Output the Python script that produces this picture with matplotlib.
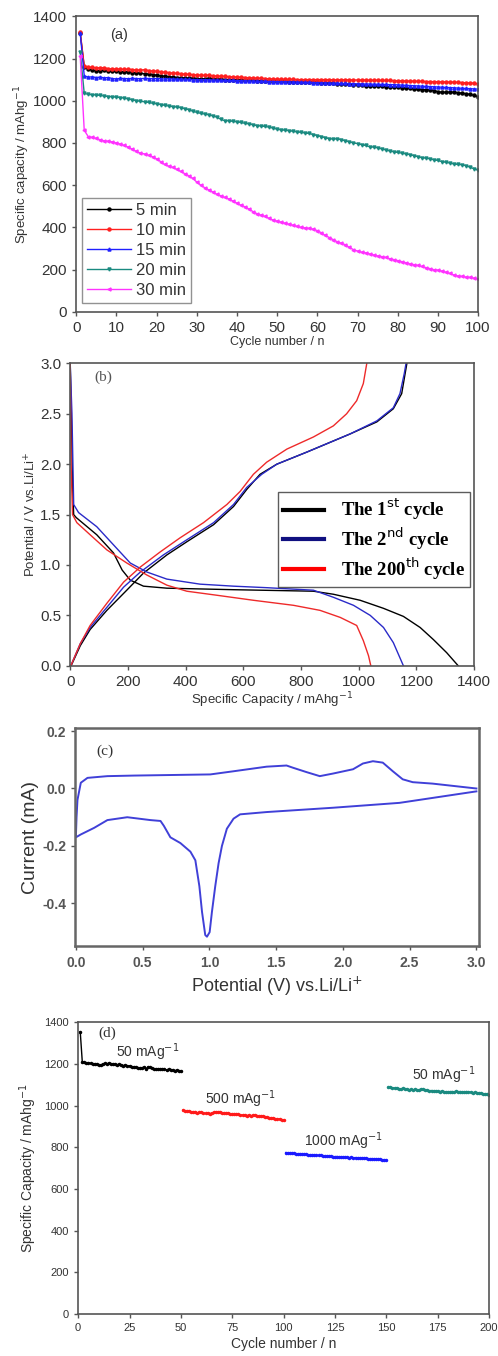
import matplotlib
matplotlib.use('Agg')
import matplotlib.pyplot as plt
from matplotlib.lines import Line2D

plt.rcParams['font.family'] = ['Liberation Sans', 'DejaVu Sans']

# ---- panel (a): cycling at different times ----
cycles_a = list(range(1, 101))
cap_5min = [1320, 1160, 1150, 1145, 1142, 1143, 1145, 1141, 1140, 1142,
            1138, 1137, 1138, 1133, 1132, 1130, 1128, 1126, 1124, 1120,
            1118, 1115, 1114, 1112, 1110, 1110, 1108, 1107, 1106, 1105,
            1104, 1104, 1106, 1103, 1102, 1101, 1100, 1100, 1099, 1098,
            1098, 1097, 1097, 1096, 1095, 1095, 1094, 1094, 1093, 1093,
            1092, 1092, 1091, 1091, 1090, 1090, 1089, 1088, 1088, 1087,
            1085, 1084, 1083, 1082, 1080, 1079, 1078, 1077, 1075, 1074,
            1073, 1072, 1071, 1070, 1069, 1068, 1067, 1066, 1065, 1064,
            1062, 1060, 1058, 1056, 1055, 1053, 1052, 1052, 1048, 1043,
            1040, 1040, 1041, 1040, 1038, 1036, 1033, 1030, 1025, 1020]
cap_10min = [1325, 1165, 1160, 1158, 1155, 1157, 1156, 1152, 1150, 1151,
             1150, 1148, 1150, 1147, 1146, 1145, 1147, 1143, 1141, 1140,
             1137, 1135, 1133, 1131, 1130, 1128, 1126, 1125, 1123, 1122,
             1121, 1120, 1121, 1118, 1117, 1116, 1115, 1114, 1113, 1112,
             1111, 1110, 1109, 1108, 1107, 1106, 1105, 1104, 1103, 1102,
             1102, 1101, 1101, 1101, 1100, 1100, 1100, 1100, 1100, 1100,
             1100, 1100, 1100, 1099, 1099, 1099, 1099, 1099, 1098, 1098,
             1098, 1098, 1097, 1097, 1097, 1096, 1096, 1096, 1095, 1095,
             1094, 1094, 1093, 1093, 1092, 1092, 1091, 1091, 1090, 1090,
             1089, 1089, 1088, 1088, 1087, 1086, 1085, 1084, 1083, 1080]
cap_15min = [1320, 1118, 1112, 1113, 1110, 1112, 1108, 1110, 1105, 1103,
             1106, 1105, 1104, 1106, 1105, 1104, 1106, 1105, 1104, 1105,
             1104, 1103, 1104, 1103, 1102, 1102, 1101, 1101, 1100, 1100,
             1099, 1100, 1099, 1098, 1098, 1097, 1097, 1096, 1096, 1095,
             1095, 1094, 1094, 1093, 1093, 1092, 1092, 1091, 1091, 1090,
             1090, 1090, 1089, 1089, 1088, 1088, 1087, 1087, 1086, 1085,
             1085, 1084, 1084, 1083, 1083, 1082, 1082, 1081, 1081, 1080,
             1080, 1079, 1079, 1078, 1078, 1077, 1077, 1076, 1076, 1075,
             1074, 1073, 1072, 1071, 1070, 1069, 1068, 1067, 1066, 1065,
             1064, 1063, 1062, 1061, 1060, 1059, 1058, 1057, 1056, 1055]
cap_20min = [1230, 1035, 1030, 1028, 1027, 1025, 1022, 1020, 1018, 1017,
             1015, 1012, 1008, 1004, 1000, 997, 995, 992, 988, 985,
             982, 978, 975, 972, 970, 967, 962, 958, 950, 945,
             940, 937, 933, 928, 922, 912, 905, 905, 902, 900,
             897, 893, 890, 886, 882, 880, 878, 875, 870, 865,
             862, 860, 858, 855, 852, 850, 847, 845, 840, 835,
             830, 825, 820, 818, 820, 815, 810, 805, 800, 797,
             792, 788, 782, 780, 777, 772, 767, 762, 758, 755,
             752, 748, 745, 740, 735, 730, 728, 725, 720, 717,
             712, 708, 705, 700, 698, 697, 692, 685, 678, 670]
cap_30min = [1210, 860, 830, 826, 822, 815, 810, 808, 805, 800,
             795, 788, 780, 770, 760, 752, 748, 742, 735, 725,
             712, 698, 690, 685, 675, 665, 655, 645, 632, 615,
             600, 588, 578, 568, 557, 550, 542, 535, 525, 515,
             505, 498, 487, 475, 465, 458, 452, 443, 435, 430,
             425, 420, 415, 410, 405, 400, 398, 395, 392, 385,
             375, 362, 352, 342, 332, 325, 318, 305, 295, 288,
             283, 280, 275, 270, 265, 262, 258, 252, 248, 243,
             238, 233, 228, 224, 220, 215, 210, 205, 200, 198,
             193, 188, 182, 175, 170, 168, 165, 163, 160, 155]
labels_a = ['5 min', '10 min', '15 min', '20 min', '30 min']

# ---- panel (b): charge/discharge profiles ----
c1_dis_x = [0, 5, 8, 12, 21, 92, 150, 180, 208, 254, 335, 566, 843, 912, 1005, 1086, 1155, 1213, 1259, 1305, 1345]
c1_dis_y = [3.0, 2.3, 1.8, 1.5, 1.47, 1.3, 1.12, 0.95, 0.85, 0.79, 0.77, 0.755, 0.74, 0.71, 0.65, 0.57, 0.49, 0.38, 0.26, 0.13, 0.0]
c1_chg_x = [3, 35, 69, 127, 196, 254, 335, 404, 497, 566, 612, 658, 716, 820, 970, 1063, 1120, 1149, 1161, 1167]
c1_chg_y = [0.0, 0.2, 0.36, 0.55, 0.75, 0.92, 1.1, 1.23, 1.4, 1.58, 1.75, 1.9, 2.0, 2.12, 2.3, 2.42, 2.55, 2.7, 2.9, 3.0]
c2_dis_x = [0, 6, 12, 29, 92, 150, 208, 266, 335, 450, 566, 681, 843, 912, 982, 1040, 1086, 1120, 1155]
c2_dis_y = [3.0, 2.5, 1.6, 1.52, 1.38, 1.2, 1.02, 0.93, 0.86, 0.81, 0.79, 0.775, 0.75, 0.68, 0.6, 0.5, 0.38, 0.23, 0.0]
c2_chg_x = [2, 35, 69, 127, 185, 243, 323, 404, 497, 566, 612, 664, 716, 820, 970, 1063, 1120, 1143, 1158, 1164]
c2_chg_y = [0.0, 0.22, 0.38, 0.58, 0.78, 0.93, 1.1, 1.25, 1.42, 1.6, 1.77, 1.9, 2.0, 2.12, 2.3, 2.43, 2.56, 2.7, 2.9, 3.0]
c200_dis_x = [0, 3, 8, 23, 69, 127, 196, 266, 335, 404, 508, 635, 774, 866, 936, 993, 1016, 1034, 1042]
c200_dis_y = [3.0, 2.0, 1.5, 1.42, 1.3, 1.15, 1.02, 0.9, 0.8, 0.74, 0.7, 0.65, 0.6, 0.55, 0.48, 0.4, 0.25, 0.1, 0.0]
c200_chg_x = [2, 35, 69, 127, 185, 243, 312, 381, 462, 543, 589, 635, 681, 751, 843, 912, 958, 993, 1016, 1028]
c200_chg_y = [0.0, 0.22, 0.4, 0.62, 0.83, 0.98, 1.13, 1.27, 1.42, 1.6, 1.73, 1.9, 2.02, 2.15, 2.27, 2.38, 2.5, 2.63, 2.8, 3.0]

# ---- panel (c): cyclic voltammetry (closed loop) ----
cv_v = [3.0, 2.424, 1.926, 1.429, 1.230, 1.181, 1.131, 1.094, 1.069, 1.044, 1.019, 1.002,
        0.982, 0.969, 0.945, 0.925, 0.895, 0.858, 0.783, 0.708, 0.659, 0.634, 0.559,
        0.385, 0.236, 0.137, 0.037, 0.0,
        0.005, 0.012, 0.037, 0.087, 0.236, 0.435, 1.007, 1.181, 1.429, 1.578, 1.628,
        1.728, 1.827, 1.926, 2.076, 2.150, 2.225, 2.299, 2.374, 2.448, 2.523, 2.672, 3.0]
cv_i = [-0.01, -0.05, -0.067, -0.082, -0.09, -0.105, -0.14, -0.2, -0.26, -0.34, -0.43, -0.5,
        -0.516, -0.51, -0.43, -0.34, -0.25, -0.22, -0.19, -0.17, -0.13, -0.113, -0.11,
        -0.10, -0.11, -0.137, -0.16, -0.17,
        -0.10, -0.04, 0.02, 0.037, 0.043, 0.045, 0.049, 0.06, 0.076, 0.08, 0.072,
        0.057, 0.043, 0.052, 0.067, 0.087, 0.095, 0.09, 0.06, 0.032, 0.022, 0.017, 0.0]

# ---- panel (d): rate capability ----
cyc_d1 = list(range(1, 51))
cyc_d2 = list(range(51, 101))
cyc_d3 = list(range(101, 151))
cyc_d4 = list(range(151, 201))
rate_50a = [1355, 1210, 1208, 1205, 1207, 1203, 1200, 1202, 1198, 1195,
            1196, 1200, 1203, 1201, 1205, 1202, 1198, 1200, 1197, 1199,
            1196, 1193, 1195, 1190, 1192, 1188, 1186, 1185, 1183, 1180,
            1182, 1185, 1178, 1186, 1184, 1180, 1178, 1176, 1178, 1175,
            1177, 1174, 1172, 1175, 1173, 1170, 1168, 1171, 1167, 1168]
rate_500 = [978, 975, 973, 976, 970, 968, 972, 966, 968, 970,
            965, 963, 966, 962, 965, 968, 971, 969, 972, 967,
            965, 963, 966, 961, 960, 962, 958, 959, 956, 955,
            957, 953, 955, 952, 954, 956, 953, 951, 952, 950,
            948, 946, 943, 940, 942, 938, 935, 937, 933, 932]
rate_1000 = [775, 773, 774, 771, 772, 770, 769, 770, 768, 767,
             766, 765, 764, 765, 763, 762, 761, 762, 760, 759,
             758, 757, 758, 756, 755, 756, 754, 755, 753, 752,
             753, 751, 752, 750, 751, 749, 750, 748, 748, 747,
             746, 745, 746, 744, 743, 742, 743, 741, 740, 740]
rate_50b = [1088, 1090, 1086, 1085, 1087, 1082, 1080, 1083, 1079, 1080,
            1077, 1078, 1076, 1079, 1075, 1077, 1080, 1078, 1076, 1074,
            1072, 1073, 1070, 1071, 1069, 1068, 1070, 1067, 1066, 1065,
            1067, 1068, 1066, 1069, 1067, 1068, 1065, 1066, 1068, 1067,
            1065, 1063, 1064, 1062, 1061, 1060, 1058, 1057, 1055, 1053]

spine_col = '#555555'
text_col = '#333333'


def style_axes(ax, size=10):
    for s in ['top', 'right', 'left', 'bottom']:
        ax.spines[s].set_color(spine_col)
        ax.spines[s].set_linewidth(1.2)
    ax.tick_params(direction='out', length=3, width=1, colors=spine_col,
                   labelcolor=text_col, labelsize=size, top=False, right=False)


fig = plt.figure(figsize=(4.98, 13.56), dpi=100)

# (a)
ax = fig.add_axes([0.153, 0.770, 0.807, 0.218])
cols_a = ['black', '#ff2020', '#2020ff', '#1a8a80', '#ff33ff']
marks_a = ['o', 'o', '^', 'v', '<']
for vals, lab, c, m in zip([cap_5min, cap_10min, cap_15min, cap_20min, cap_30min], labels_a, cols_a, marks_a):
    ax.plot(cycles_a, vals, color=c, marker=m, markersize=2.2, linewidth=1, label=lab)
ax.set_xlim(0, 100)
ax.set_ylim(0, 1400)
ax.set_xticks(range(0, 101, 10))
ax.set_yticks(range(0, 1401, 200))
style_axes(ax, 11)
ax.set_xlabel('Cycle number / n', fontsize=9, color=text_col, labelpad=1)
ax.set_ylabel('Specific capacity / mAhg$^{-1}$', fontsize=9.5, color=text_col, labelpad=1)
ax.text(8.5, 1310, '(a)', fontsize=10.5, color=text_col, va='center', family='Liberation Sans')
leg = ax.legend(loc='lower left', bbox_to_anchor=(0.015, 0.03), fontsize=12, frameon=True,
                fancybox=False, edgecolor='#777777', handlelength=2.6, borderpad=0.3,
                labelspacing=0.3, handletextpad=0.3, borderaxespad=0)
for t in leg.get_texts():
    t.set_color(text_col)

# (b)
ax = fig.add_axes([0.141, 0.509, 0.811, 0.223])
col_c1, col_c2, col_c200 = 'black', '#2a2ac8', '#ee2a2a'
ax.plot(c1_dis_x, c1_dis_y, color=col_c1, lw=1)
ax.plot(c1_chg_x, c1_chg_y, color=col_c1, lw=1)
ax.plot(c2_dis_x, c2_dis_y, color=col_c2, lw=1)
ax.plot(c2_chg_x, c2_chg_y, color=col_c2, lw=1)
ax.plot(c200_dis_x, c200_dis_y, color=col_c200, lw=1)
ax.plot(c200_chg_x, c200_chg_y, color=col_c200, lw=1)
ax.set_xlim(0, 1400)
ax.set_ylim(0, 3.0)
ax.set_xticks(range(0, 1401, 200))
ax.set_yticks([0.0, 0.5, 1.0, 1.5, 2.0, 2.5, 3.0])
ax.set_yticklabels(['0.0', '0.5', '1.0', '1.5', '2.0', '2.5', '3.0'])
style_axes(ax, 11)
ax.set_xlabel('Specific Capacity / mAhg$^{-1}$', fontsize=9.5, color=text_col, labelpad=1)
ax.set_ylabel('Potential / V vs.Li/Li$^{+}$', fontsize=9.5, color=text_col, labelpad=1)
ax.text(114, 2.86, '(b)', fontsize=11, color='#555555', family='Liberation Serif',
        ha='center', va='center')
handles = [Line2D([], [], color='black', lw=3), Line2D([], [], color='#101080', lw=3),
           Line2D([], [], color='red', lw=3)]
leg = ax.legend(handles, ['The 1$^{\\mathrm{st}}$ cycle', 'The 2$^{\\mathrm{nd}}$ cycle',
                          'The 200$^{\\mathrm{th}}$ cycle'],
                loc='upper left', bbox_to_anchor=(0.515, 0.575), frameon=True, fancybox=False,
                edgecolor='#333333', prop={'family': 'Liberation Serif', 'weight': 'bold', 'size': 13.5},
                handlelength=2.2, borderpad=0.25, labelspacing=0.2, handletextpad=0.9,
                borderaxespad=0)
leg.get_frame().set_linewidth(1)

# (c)
ax = fig.add_axes([0.151, 0.302, 0.811, 0.161])
ax.plot(cv_v, cv_i, color='#4040d8', lw=1.4)
ax.set_xlim(-0.005, 3.02)
ax.set_ylim(-0.55, 0.21)
ax.set_xticks([0.0, 0.5, 1.0, 1.5, 2.0, 2.5, 3.0])
ax.set_xticklabels(['0.0', '0.5', '1.0', '1.5', '2.0', '2.5', '3.0'])
ax.set_yticks([-0.4, -0.2, 0.0, 0.2])
ax.set_yticklabels(['-0.4', '-0.2', '0.0', '0.2'])
style_axes(ax, 10)
for s in ax.spines.values():
    s.set_linewidth(1.8)
    s.set_color('#666666')
for t in ax.get_xticklabels() + ax.get_yticklabels():
    t.set_fontweight('bold')
    t.set_color('#555555')
ax.set_xlabel('Potential (V) vs.Li/Li$^{+}$', fontsize=13, color='#333333', labelpad=4)
ax.set_ylabel('Current (mA)', fontsize=14, color='#333333', labelpad=2)
ax.text(0.22, 0.13, '(c)', fontsize=11, color='#333333', family='Liberation Serif',
        ha='center', va='center')

# (d)
ax = fig.add_axes([0.157, 0.031, 0.825, 0.215])
ax.plot(cyc_d1, rate_50a, color='black', marker='o', markersize=1.5, lw=1)
ax.plot(cyc_d2, rate_500, color='#ff1a1a', marker='o', markersize=1.5, lw=1)
ax.plot(cyc_d3, rate_1000, color='#1a1aff', marker='o', markersize=1.5, lw=1)
ax.plot(cyc_d4, rate_50b, color='#1a8a80', marker='o', markersize=1.5, lw=1)
ax.set_xlim(0, 200)
ax.set_ylim(0, 1400)
ax.set_xticks(range(0, 201, 25))
ax.set_yticks(range(0, 1401, 200))
style_axes(ax, 8)
ax.set_xlabel('Cycle number / n', fontsize=10, color=text_col, labelpad=3)
ax.set_ylabel('Specific Capacity / mAhg$^{-1}$', fontsize=10, color=text_col, labelpad=4)
ax.text(10, 1330, '(d)', fontsize=11, color='#333333', family='Liberation Serif')
ax.text(34, 1235, '50 mAg$^{-1}$', fontsize=10, color=text_col, ha='center')
ax.text(79, 1010, '500 mAg$^{-1}$', fontsize=10, color=text_col, ha='center')
ax.text(129, 805, '1000 mAg$^{-1}$', fontsize=10, color=text_col, ha='center')
ax.text(178, 1125, '50 mAg$^{-1}$', fontsize=10, color=text_col, ha='center')

fig.savefig('out.png', dpi=100)
